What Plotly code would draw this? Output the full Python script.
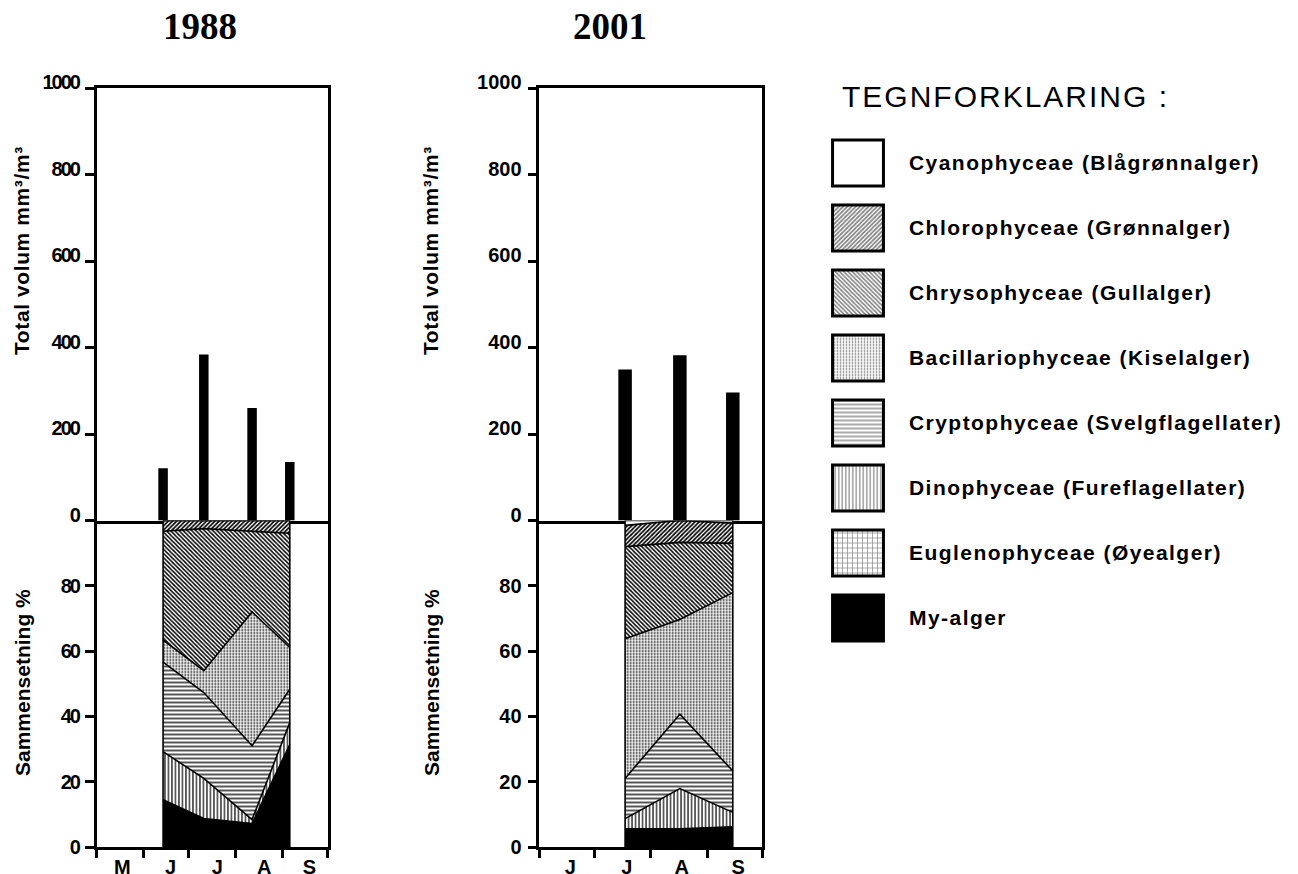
import plotly.graph_objects as go

W, H = 1298, 874

# ---------------- data ----------------
groups = ["Cyanophyceae (Blågrønnalger)", "Chlorophyceae (Grønnalger)",
          "Chrysophyceae (Gullalger)", "Bacillariophyceae (Kiselalger)",
          "Cryptophyceae (Svelgflagellater)", "Dinophyceae (Fureflagellater)",
          "Euglenophyceae (Øyealger)", "My-alger"]

# 1988
dates_1988 = ["1988-06-14", "1988-07-11", "1988-08-12", "1988-09-06"]
total_1988 = [121, 384, 260, 135]
pct_1988 = {  # share in % per sample
    "My-alger": [14.5, 8.7, 7.2, 31.4],
    "Euglenophyceae (Øyealger)": [0, 0, 0, 0],
    "Dinophyceae (Fureflagellater)": [14.7, 12.3, 1.2, 6.7],
    "Cryptophyceae (Svelgflagellater)": [27.4, 26.3, 22.6, 10.2],
    "Bacillariophyceae (Kiselalger)": [6.8, 6.7, 41.0, 12.8],
    "Chrysophyceae (Gullalger)": [33.3, 43.5, 24.7, 35.0],
    "Chlorophyceae (Grønnalger)": [3.3, 2.5, 3.3, 3.9],
    "Cyanophyceae (Blågrønnalger)": [0, 0, 0, 0],
}
months_1988 = ["M", "J", "J", "A", "S"]
month_label_dates_1988 = ["1988-05-18", "1988-06-19", "1988-07-20", "1988-08-20", "1988-09-19"]
month_starts_1988 = ["1988-05-01", "1988-06-01", "1988-07-01", "1988-08-01", "1988-09-01", "1988-10-01"]

# 2001
dates_2001 = ["2001-07-18", "2001-08-17", "2001-09-15"]
total_2001 = [349, 382, 296]
pct_2001 = {
    "My-alger": [5.6, 5.6, 6.2],
    "Euglenophyceae (Øyealger)": [0, 0, 0],
    "Dinophyceae (Fureflagellater)": [3.1, 12.3, 4.4],
    "Cryptophyceae (Svelgflagellater)": [12.3, 22.8, 12.7],
    "Bacillariophyceae (Kiselalger)": [42.8, 29.0, 54.6],
    "Chrysophyceae (Gullalger)": [28.2, 23.6, 15.1],
    "Chlorophyceae (Grønnalger)": [6.5, 6.7, 6.2],
    "Cyanophyceae (Blågrønnalger)": [1.5, 0, 0.8],
}
months_2001 = ["J", "J", "A", "S"]
month_label_dates_2001 = ["2001-06-18", "2001-07-19", "2001-08-18", "2001-09-18"]
month_starts_2001 = ["2001-06-01", "2001-07-01", "2001-08-01", "2001-09-01", "2001-10-01"]

vol_ticks = [0, 200, 400, 600, 800, 1000]
pct_ticks = [0, 20, 40, 60, 80]

# ---------------- styles ----------------
STYLE = {
    "Cyanophyceae (Blågrønnalger)": dict(shape="", bg="white", size=8, sol=0.3),
    "Chlorophyceae (Grønnalger)": dict(shape="/", bg="white", size=3, sol=0.55),
    "Chrysophyceae (Gullalger)": dict(shape="\\", bg="white", size=3, sol=0.5),
    "Bacillariophyceae (Kiselalger)": dict(shape=".", bg="white", size=3, sol=0.28),
    "Cryptophyceae (Svelgflagellater)": dict(shape="-", bg="white", size=4, sol=0.33),
    "Dinophyceae (Fureflagellater)": dict(shape="|", bg="white", size=3.5, sol=0.33),
    "Euglenophyceae (Øyealger)": dict(shape="+", bg="white", size=5, sol=0.25),
    "My-alger": dict(shape="", bg="black", size=8, sol=0.3),
}
stack_order = ["My-alger", "Euglenophyceae (Øyealger)", "Dinophyceae (Fureflagellater)",
               "Cryptophyceae (Svelgflagellater)", "Bacillariophyceae (Kiselalger)",
               "Chrysophyceae (Gullalger)", "Chlorophyceae (Grønnalger)",
               "Cyanophyceae (Blågrønnalger)"]

OFF = 8  # page body margin

def dx(px):
    return (px - OFF) / W

def dy(py):
    return 1 - (py - OFF) / H

SANS = "Liberation Sans, Arial"
LW = 2.5
DAY = 86400000

fig = go.Figure()

def add_panel(dates, totals, pct, xa_top, ya_top, xa_bot, ya_bot, bar_days, grp):
    fig.add_trace(go.Bar(x=dates, y=totals, width=bar_days * DAY,
                         marker=dict(color="black", line=dict(width=0)),
                         xaxis=xa_top, yaxis=ya_top, showlegend=False))
    for g in stack_order:
        st = STYLE[g]
        kw = dict(fillcolor=st["bg"])
        if st["shape"]:
            kw["fillpattern"] = dict(shape=st["shape"], fgcolor="black", bgcolor=st["bg"],
                                     size=st["size"], solidity=st["sol"])
        fig.add_trace(go.Scatter(x=dates, y=pct[g], mode="lines", stackgroup=grp,
                                 line=dict(color="black", width=1.6),
                                 xaxis=xa_bot, yaxis=ya_bot, showlegend=False, **kw))
    fig.add_trace(go.Scatter(x=[dates[0], dates[0], None, dates[-1], dates[-1]],
                             y=[0, 100, None, 0, 100], mode="lines",
                             line=dict(color="black", width=1.6),
                             xaxis=xa_bot, yaxis=ya_bot, showlegend=False))

add_panel(dates_1988, total_1988, pct_1988, "x", "y", "x2", "y2", 6.3, "a")
add_panel(dates_2001, total_2001, pct_2001, "x3", "y3", "x4", "y4", 7.4, "b")

# legend swatches: one bar per group
for g in groups:
    st = STYLE[g]
    pat = dict(shape=st["shape"], fgcolor="black", bgcolor=st["bg"], size=st["size"],
               solidity=st["sol"], fillmode="overlay")
    fig.add_trace(go.Bar(
        x=[1], y=[g], orientation="h", width=0.71,
        marker=dict(color=st["bg"], line=dict(color="black", width=3), pattern=pat),
        xaxis="x5", yaxis="y5", showlegend=False))

def span(t, ls):
    return "<span style='letter-spacing:%gpx'>%s</span>" % (ls, t)

def yax(domain, rng, ticks, anchor, ls, shift=0):
    return dict(domain=domain, range=rng, tickmode="array", tickvals=ticks,
                ticktext=[span(str(t), ls) for t in ticks],
                ticks="outside", ticklen=9, tickwidth=LW, tickcolor="black",
                showline=True, linewidth=LW, linecolor="black",
                mirror=True, showgrid=False, zeroline=False, anchor=anchor,
                automargin=False, ticklabelshift=shift, ticklabelstandoff=2,
                tickfont=dict(family=SANS, size=20, color="black", weight="bold"))

def xax_top(domain, rng, anchor):
    return dict(domain=domain, range=rng, type="date", showline=True, linewidth=LW,
                linecolor="black", mirror=True, showgrid=False, zeroline=False,
                showticklabels=False, ticks="", anchor=anchor, automargin=False)

def xax_bot(domain, rng, anchor, labels, label_dates, starts):
    return dict(domain=domain, range=rng, type="date", showline=True, linewidth=LW,
                linecolor="black", mirror=False, showgrid=False, zeroline=False,
                tickmode="array", tickvals=label_dates, ticktext=labels, ticks="",
                ticklabelstandoff=0, automargin=False,
                tickfont=dict(family=SANS, size=20, color="black", weight="bold"),
                minor=dict(tickmode="array", tickvals=starts, ticks="outside", ticklen=8,
                           tickwidth=LW, tickcolor="black", showgrid=False),
                anchor=anchor)

L = [dx(96.7), dx(327.5)]
R = [dx(539.3), dx(762)]
TOP = [dy(520.5), dy(88)]
BOT = [dy(847), dy(520.5)]

fig.update_layout(
    template="none",
    width=W, height=H, margin=dict(l=0, r=0, t=0, b=0, pad=0, autoexpand=False),
    font=dict(family=SANS, color="black"),
    paper_bgcolor="white", plot_bgcolor="white", showlegend=False, barmode="overlay",
    xaxis=xax_top(L, ["1988-05-01", "1988-10-01"], "y"),
    yaxis=yax(TOP, [0, 1000], vol_ticks, "x", -2, -6),
    xaxis2=xax_bot(L, ["1988-05-01", "1988-10-01"], "y2", months_1988,
                   month_label_dates_1988, month_starts_1988),
    yaxis2=yax(BOT, [0, 100], pct_ticks, "x2", -2),
    xaxis3=xax_top(R, ["2001-06-01", "2001-10-01"], "y3"),
    yaxis3=yax(TOP, [0, 1000], vol_ticks, "x3", 0, -6),
    xaxis4=xax_bot(R, ["2001-06-01", "2001-10-01"], "y4", months_2001,
                   month_label_dates_2001, month_starts_2001),
    yaxis4=yax(BOT, [0, 100], pct_ticks, "x4", 0),
    xaxis5=dict(domain=[dx(830), dx(886)], range=[-0.05, 1.05], visible=False,
                anchor="y5", automargin=False),
    yaxis5=dict(domain=[dy(650.5), dy(130.5)], type="category", categoryorder="array",
                categoryarray=groups, range=[7.5, -0.5], side="right", anchor="x5",
                ticks="", showline=False, showgrid=False, zeroline=False,
                ticklabelstandoff=22, automargin=False,
                tickmode="array", tickvals=groups,
                ticktext=[span(g, 1.45) for g in groups],
                tickfont=dict(family=SANS, size=21, color="black", weight="bold")),
)

for t, xpx in [("1988", 200), ("2001", 610)]:
    fig.add_annotation(text=t, x=dx(xpx), y=dy(27), xref="paper", yref="paper",
                       showarrow=False, xanchor="center", yanchor="middle",
                       font=dict(family="Liberation Serif, Times New Roman", size=37,
                                 color="black", weight="bold"))

for xpx, ypx, t, ls in [(22, 251, "Total volum mm³/m³", 0.6), (22, 683, "Sammensetning %", 0),
                        (431, 251, "Total volum mm³/m³", 0.6), (431, 683, "Sammensetning %", 0)]:
    fig.add_annotation(text=span(t, ls), x=dx(xpx), y=dy(ypx), xref="paper", yref="paper",
                       showarrow=False, textangle=-90, xanchor="center", yanchor="middle",
                       font=dict(family=SANS, size=21, color="black", weight="bold"))

fig.add_annotation(text=span("TEGNFORKLARING :", 2),
                   x=dx(840), y=dy(97), xref="paper", yref="paper", showarrow=False,
                   xanchor="left", yanchor="middle",
                   font=dict(family=SANS, size=30, color="black"))

fig.write_html("out.html")
